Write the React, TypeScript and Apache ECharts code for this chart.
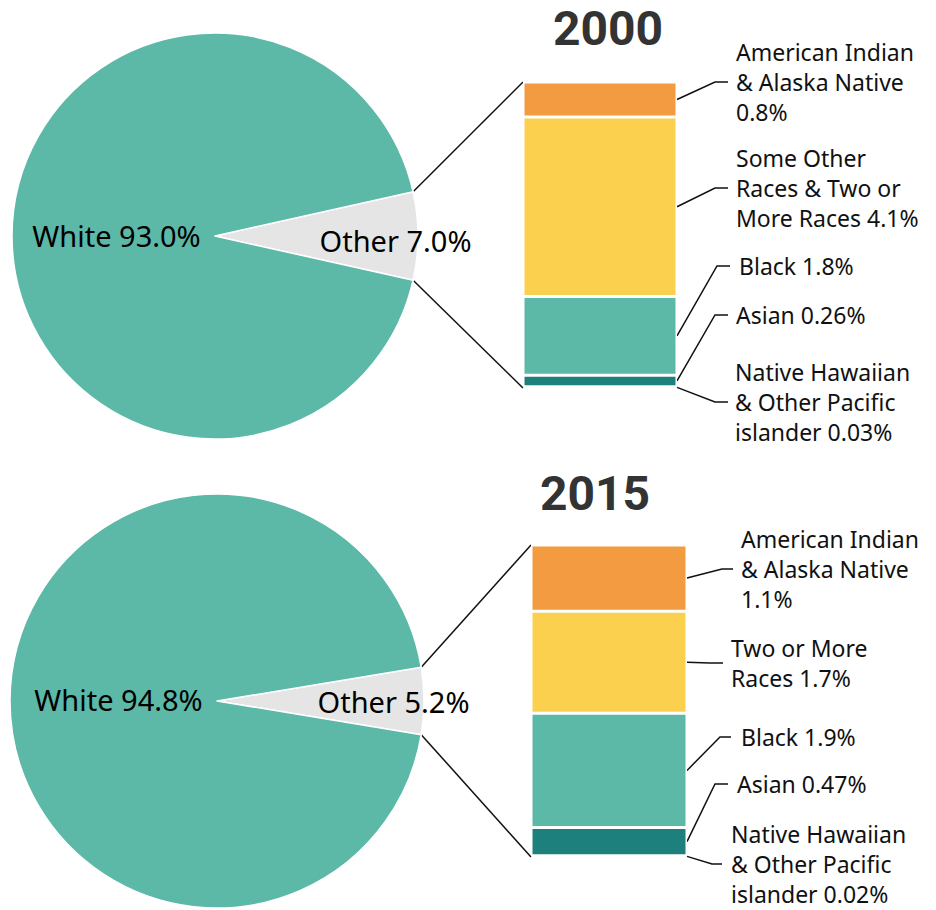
import React, { useEffect, useRef } from "react";
import * as echarts from "echarts";

// ---- Data ----
const years = ["2000", "2015"];
const pieCategories = ["Other", "White"];
const pie2000 = [7.0, 93.0];
const pie2015 = [5.2, 94.8];

// bottom to top of the stacked bar
const barCategories = [
  "Native Hawaiian & Other Pacific islander",
  "Asian",
  "Black",
  "Some Other / Two or More Races",
  "American Indian & Alaska Native",
];
const bar2000 = [0.03, 0.26, 1.8, 4.1, 0.8];
const bar2015 = [0.02, 0.47, 1.9, 1.7, 1.1];
const barLabels2000 = [
  "Native Hawaiian\n& Other Pacific\nislander 0.03%",
  "Asian 0.26%",
  "Black 1.8%",
  "Some Other\nRaces & Two or\nMore Races 4.1%",
  "American Indian\n& Alaska Native\n0.8%",
];
const barLabels2015 = [
  "Native Hawaiian\n& Other Pacific\nislander 0.02%",
  "Asian 0.47%",
  "Black 1.9%",
  "Two or More\nRaces 1.7%",
  "American Indian\n& Alaska Native\n1.1%",
];

// ---- Layout / style ----
const barColors = ["#1e807d", "#1e807d", "#5cb8a7", "#fbd04f", "#f29b40"];
const pieColors = ["#e5e5e5", "#5cb8a7"];
const FONT = "Noto Sans";

const panels = [
  {
    pie: pie2000,
    bar: bar2000,
    labels: barLabels2000,
    center: [215, 236],
    radius: 203,
    grid: { left: 523, top: 82, width: 154, height: 306 },
    title: [608, 28],
    whiteOffset: [6, -1],
    otherOffset: [76, 4],
    // [elbowX, elbowY, endX, textX]
    leaders: [
      [715, 402, 728, 735],
      [715, 315, 728, 736],
      [717, 266, 730, 739],
      [715, 188, 728, 736],
      [715, 82, 728, 736],
    ],
  },
  {
    pie: pie2015,
    bar: bar2015,
    labels: barLabels2015,
    center: [217, 701],
    radius: 207,
    grid: { left: 531, top: 545, width: 156, height: 312 },
    title: [595, 493],
    whiteOffset: [8, -2],
    otherOffset: [70, 0],
    leaders: [
      [712, 864, 722, 731],
      [715, 784, 728, 737],
      [720, 737, 731, 741],
      [710, 663, 723, 731],
      [722, 569, 733, 741],
    ],
  },
];

export default function App() {
  const ref = useRef<HTMLDivElement>(null);

  useEffect(() => {
    if (!ref.current) return;
    const chart = echarts.init(ref.current, null, { renderer: "svg" });

    const grids: any[] = [];
    const xAxes: any[] = [];
    const yAxes: any[] = [];
    const series: any[] = [];

    panels.forEach((p, i) => {
      const total = p.bar.reduce((a, b) => a + b, 0);
      const pieTotal = p.pie.reduce((a, b) => a + b, 0);
      grids.push({ ...p.grid, containLabel: false });
      xAxes.push({ type: "category", gridIndex: i, data: [years[i]], show: false });
      yAxes.push({ type: "value", gridIndex: i, min: 0, max: total, show: false });

      series.push({
        type: "pie",
        center: p.center,
        radius: p.radius,
        startAngle: ((p.pie[0] / pieTotal) * 360) / 2,
        clockwise: true,
        silent: true,
        itemStyle: { borderColor: "#fff", borderWidth: 1.5 },
        labelLine: { show: false },
        data: pieCategories.map((name, k) => ({
          name,
          value: p.pie[k],
          itemStyle: { color: pieColors[k] },
          label: {
            show: true,
            position: "inside",
            offset: k === 0 ? p.otherOffset : p.whiteOffset,
            formatter: `${name} ${p.pie[k].toFixed(1)}%`,
            fontFamily: FONT,
            fontSize: 29,
            color: "#000",
          },
        })),
      });

      p.bar.forEach((v, j) => {
        series.push({
          type: "bar",
          name: barCategories[j],
          xAxisIndex: i,
          yAxisIndex: i,
          stack: "s" + i,
          barWidth: "100%",
          silent: true,
          data: [v],
          itemStyle: { color: barColors[j], borderColor: "#fff", borderWidth: 1.5 },
        });
      });
    });

    chart.setOption({
      animation: false,
      grid: grids,
      xAxis: xAxes,
      yAxis: yAxes,
      series,
    });

    const graphic: any[] = [];
    const lineStyle = { stroke: "#111", lineWidth: 1.5, fill: "none" };
    panels.forEach((p, i) => {
      const total = p.bar.reduce((a, b) => a + b, 0);
      const pieTotal = p.pie.reduce((a, b) => a + b, 0);
      const half = (((p.pie[0] / pieTotal) * 360) / 2) * (Math.PI / 180);
      const [cx, cy] = p.center;
      const r = p.radius;
      const left = p.grid.left;
      const right = p.grid.left + p.grid.width;
      const topPt = chart.convertToPixel({ gridIndex: i } as any, [0, total]) as number[];
      const botPt = chart.convertToPixel({ gridIndex: i } as any, [0, 0]) as number[];

      // connectors from pie "Other" slice to bar
      graphic.push({
        type: "line",
        shape: { x1: cx + r * Math.cos(half), y1: cy - r * Math.sin(half), x2: left, y2: topPt[1] },
        style: lineStyle,
      });
      graphic.push({
        type: "line",
        shape: { x1: cx + r * Math.cos(half), y1: cy + r * Math.sin(half), x2: left, y2: botPt[1] },
        style: lineStyle,
      });

      // title
      graphic.push({
        type: "text",
        x: p.title[0],
        y: p.title[1],
        style: {
          text: years[i],
          fontFamily: "Roboto",
          fontWeight: "bold",
          fontSize: 48,
          fill: "#333",
          align: "center",
          verticalAlign: "middle",
        },
      });

      let cum = 0;
      p.bar.forEach((v, j) => {
        const mid = cum + v / 2;
        cum += v;
        const pt = chart.convertToPixel({ gridIndex: i } as any, [0, mid]) as number[];
        const [ex, ey, endX, tx] = p.leaders[j];
        graphic.push({
          type: "polyline",
          shape: { points: [[right, pt[1]], [ex, ey], [endX, ey]] },
          style: lineStyle,
        });
        graphic.push({
          type: "text",
          x: tx,
          y: ey,
          style: {
            text: p.labels[j],
            fontFamily: FONT,
            fontSize: 23,
            lineHeight: 30,
            fill: "#111",
            align: "left",
            verticalAlign: "middle",
          },
        });
      });
    });

    chart.setOption({ graphic });

    return () => chart.dispose();
  }, []);

  return (
    <div
      ref={ref}
      style={{ position: "absolute", left: 0, top: 0, width: 936, height: 910, background: "#fff" }}
    />
  );
}
